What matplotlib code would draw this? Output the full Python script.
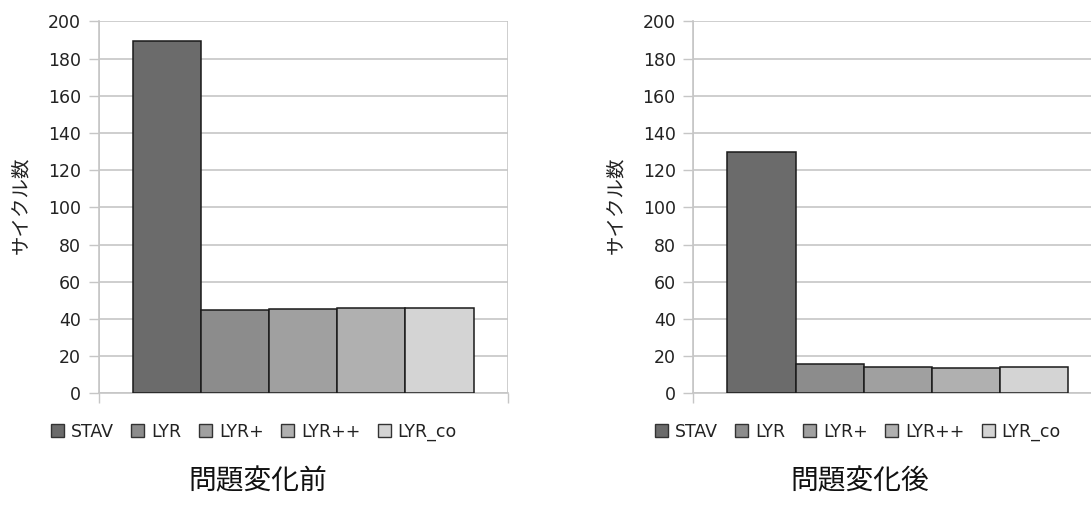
import matplotlib
matplotlib.use("Agg")
import matplotlib.pyplot as plt
from matplotlib.patches import Patch

plt.rcParams['font.family'] = ['DejaVu Sans', 'Noto Sans CJK JP']
CJK = ['Noto Sans CJK JP', 'DejaVu Sans']

# Data
methods = ["STAV", "LYR", "LYR+", "LYR++", "LYR_co"]
cycles_before = [189.6, 45.0, 45.5, 45.7, 45.7]
cycles_after = [129.5, 15.9, 14.3, 13.5, 14.3]
panel_titles = ["問題変化前", "問題変化後"]
y_ticks = list(range(0, 201, 20))
ylabel = "サイクル数"

colors = ["#6b6b6b", "#8c8c8c", "#a0a0a0", "#b0b0b0", "#d4d4d4"]
grid_color = "#c6c6c6"
text_color = "#222222"

W, H = 1091, 519
fig = plt.figure(figsize=(W / 100, H / 100), dpi=100)
fig.patch.set_facecolor("white")


def draw_panel(ax, values):
    n = len(values)
    bw = 1.0 / (n + 1)
    x0 = bw / 2
    for i, v in enumerate(values):
        ax.bar(x0 + (i + 0.5) * bw, v, width=bw, color=colors[i],
               edgecolor="#1a1a1a", linewidth=1.1, zorder=3)
    ax.set_xlim(0, 1)
    ax.set_ylim(0, 200)
    ax.set_yticks(y_ticks)
    ax.set_xticks([0, 1])
    ax.set_xticklabels([])
    ax.tick_params(axis="y", length=7.2, width=1.0, color=grid_color,
                   labelsize=12.5, pad=5.5, labelcolor=text_color)
    ax.tick_params(axis="x", length=7.2, width=1.0, color=grid_color)
    ax.grid(True, axis="both", color=grid_color, linewidth=1.2, zorder=0)
    for s in ["top", "right"]:
        ax.spines[s].set_visible(False)
    for s in ["left", "bottom"]:
        ax.spines[s].set_color(grid_color)
        ax.spines[s].set_linewidth(1.2)
    ax.set_axisbelow(True)


ax_w = 409.2 / W
ax_b = (H - 393.3) / H
ax_h = 372.0 / H
ax1 = fig.add_axes([98.5 / W, ax_b, ax_w, ax_h])
ax2 = fig.add_axes([693.3 / W, ax_b, ax_w, ax_h])
draw_panel(ax1, cycles_before)
draw_panel(ax2, cycles_after)

# vertical axis titles
for lx in (21, 616):
    fig.text(lx / W, 1 - 205 / H, ylabel, rotation=90, ha="center",
             va="center", fontsize=14, color=text_color, family=CJK)

handles = [Patch(facecolor=c, edgecolor="#333333", linewidth=1.0) for c in colors]
for cx in (254, 858):
    fig.legend(handles, methods, loc="center", ncol=5,
               bbox_to_anchor=(cx / W, 1 - 432 / H), frameon=False,
               fontsize=12.5, handlelength=0.75, handleheight=0.75,
               handletextpad=0.4, columnspacing=1.0,
               labelcolor=text_color)

for cx, t in zip((258, 860), panel_titles):
    fig.text(cx / W, 1 - 481 / H, t, ha="center", va="center",
             fontsize=20, color="#111111", family=CJK)

fig.savefig("out.png", dpi=100, facecolor="white")
